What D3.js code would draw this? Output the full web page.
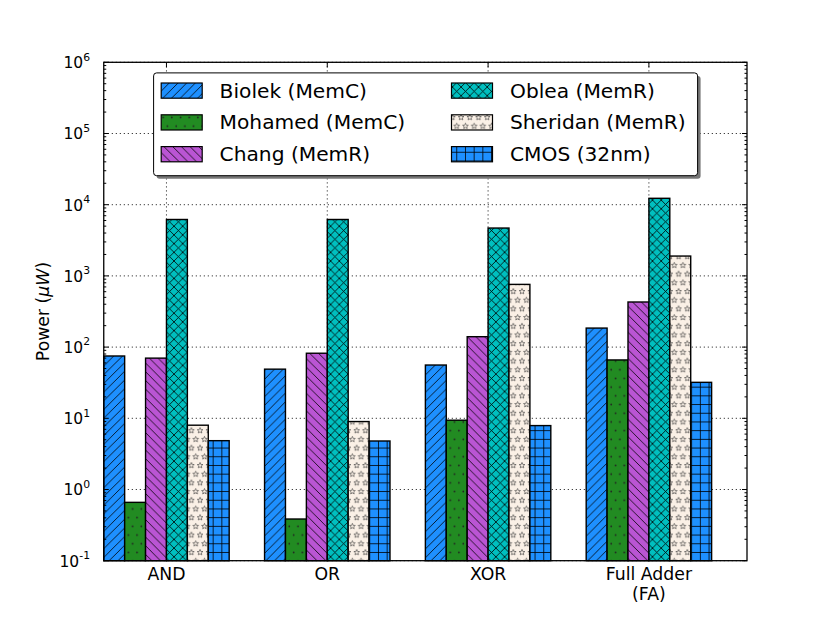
<!DOCTYPE html>
<html><head><meta charset="utf-8">
<script src="https://cdn.jsdelivr.net/npm/d3@7"></script>
<style>body{margin:0;background:#fff} svg{display:block;font-family:"DejaVu Sans",sans-serif}</style>
</head><body><svg id="c" width="830" height="623"></svg>
<script>
// ---- data ----
const categories = [["AND"], ["OR"], ["XOR"], ["Full Adder", "(FA)"]];
const seriesNames = ["Biolek (MemC)", "Mohamed (MemC)", "Chang (MemR)", "Oblea (MemR)", "Sheridan (MemR)", "CMOS (32nm)"];
const biolek   = [75, 49, 56, 185];
const mohamed  = [0.66, 0.385, 9.4, 66];
const chang    = [70, 82, 140, 430];
const oblea    = [6200, 6200, 4700, 12300];
const sheridan = [8, 9, 760, 1900];
const cmos     = [4.85, 4.8, 7.9, 32];
const seriesValues = [biolek, mohamed, chang, oblea, sheridan, cmos];
const seriesColors = ["#1E90FF", "#228B22", "#BA55D3", "#00BFBF", "#FAF0E6", "#1E90FF"];
const seriesHatch = ["/", ".", "\\", "x", "*", "+"];
const yTickExps = [-1, 0, 1, 2, 3, 4, 5, 6];
const groupPositions = [0, 1, 2, 3];
const barWidth = 0.13;
const xTickPositions = [0.39, 1.39, 2.39, 3.39];

// ---- layout ----
const L = 103.75, R = 747, T = 62.3, B = 560.7;
const svg = d3.select("#c");
const x = d3.scaleLinear().domain([0, 4]).range([L, R]);
const y = d3.scaleLog().domain([0.1, 1e6]).range([B, T]);

// ---- hatch patterns ----
const defs = svg.append("defs");
const s = 8.7;
function makePattern(i) {
  const h = seriesHatch[i], col = seriesColors[i];
  const tall = (h === "." || h === "*");
  const p = defs.append("pattern").attr("id", "pat" + i)
    .attr("patternUnits", "userSpaceOnUse")
    .attr("width", s).attr("height", tall ? 2 * s : s);
  p.append("rect").attr("width", s).attr("height", tall ? 2 * s : s).attr("fill", col);
  const path = d => p.append("path").attr("d", d).attr("stroke", "#000").attr("stroke-width", 0.8).attr("fill", "none");
  const ne = `M0,${s} L${s},0 M-1,1 L1,-1 M${s-1},${s+1} L${s+1},${s-1}`;
  const se = `M0,0 L${s},${s} M-1,${s-1} L1,${s+1} M${s-1},-1 L${s+1},1`;
  if (h === "/") path(ne);
  if (h === "\\") path(se);
  if (h === "x") { path(ne); path(se); }
  if (h === "+") path(`M0,${s/2} H${s} M${s/2},0 V${s}`);
  if (h === ".") {
    [[s/4, s/2], [3*s/4, 3*s/2]].forEach(c => p.append("circle").attr("cx", c[0]).attr("cy", c[1]).attr("r", 0.85).attr("fill", "#222"));
  }
  if (h === "*") {
    const ro = 3.0, ri = 1.3;
    const star = (cx, cy) => {
      let d = "";
      for (let k = 0; k < 10; k++) {
        const r = k % 2 ? ri : ro, a = -Math.PI / 2 + k * Math.PI / 5;
        d += (k ? "L" : "M") + (cx + r * Math.cos(a)).toFixed(2) + "," + (cy + r * Math.sin(a)).toFixed(2);
      }
      return d + "Z";
    };
    p.append("path").attr("d", star(s/2, s/2) + star(0, 3*s/2) + star(s, 3*s/2))
      .attr("fill", "none").attr("stroke", "#333").attr("stroke-width", 0.6);
  }
}
seriesNames.forEach((_, i) => makePattern(i));

// ---- grid ----
const dot = "1.2,2.8";
svg.append("g").selectAll("line").data(yTickExps).join("line")
  .attr("x1", L).attr("x2", R).attr("y1", d => y(Math.pow(10, d))).attr("y2", d => y(Math.pow(10, d)))
  .attr("stroke", "#000").attr("stroke-width", 0.8).attr("stroke-dasharray", dot);
svg.append("g").selectAll("line").data(xTickPositions).join("line")
  .attr("x1", d => x(d)).attr("x2", d => x(d)).attr("y1", T).attr("y2", B)
  .attr("stroke", "#000").attr("stroke-width", 0.8).attr("stroke-dasharray", dot);

// ---- bars ----
const barsG = svg.append("g");
seriesValues.forEach((vals, i) => {
  barsG.append("g").selectAll("rect").data(vals).join("rect")
    .attr("x", (d, g) => x(groupPositions[g] + i * barWidth))
    .attr("width", x(barWidth) - x(0))
    .attr("y", d => y(d))
    .attr("height", d => B - y(d))
    .attr("fill", `url(#pat${i})`)
    .attr("stroke", "#000").attr("stroke-width", 1.4);
});

// ---- ticks ----
const tk = svg.append("g").attr("stroke", "#000").attr("stroke-width", 1);
const minors = [];
for (let e = -1; e < 6; e++) for (let m = 2; m <= 9; m++) minors.push(m * Math.pow(10, e));
yTickExps.forEach(e => {
  const yy = y(Math.pow(10, e));
  tk.append("line").attr("x1", L).attr("x2", L + 5).attr("y1", yy).attr("y2", yy);
  tk.append("line").attr("x1", R - 5).attr("x2", R).attr("y1", yy).attr("y2", yy);
});
minors.forEach(v => {
  const yy = y(v);
  tk.append("line").attr("x1", L).attr("x2", L + 2.5).attr("y1", yy).attr("y2", yy);
  tk.append("line").attr("x1", R - 2.5).attr("x2", R).attr("y1", yy).attr("y2", yy);
});
xTickPositions.forEach(p => {
  tk.append("line").attr("x1", x(p)).attr("x2", x(p)).attr("y1", B).attr("y2", B - 5);
  tk.append("line").attr("x1", x(p)).attr("x2", x(p)).attr("y1", T).attr("y2", T + 5);
});

// spine
svg.append("rect").attr("x", L).attr("y", T).attr("width", R - L).attr("height", B - T)
  .attr("fill", "none").attr("stroke", "#000").attr("stroke-width", 1.3);

// ---- y tick labels ----
yTickExps.forEach(e => {
  const t = svg.append("text").attr("x", 90).attr("y", y(Math.pow(10, e)) + 5.8)
    .attr("text-anchor", "end").attr("font-size", 15.5).attr("fill", "#000");
  t.append("tspan").text("10");
  t.append("tspan").attr("dy", -7.5).attr("font-size", 10.8).text(String(e));
});

// ---- x tick labels ----
categories.forEach((lines, g) => {
  const t = svg.append("text").attr("text-anchor", "middle").attr("font-size", 17.3).attr("fill", "#000");
  lines.forEach((ln, k) => t.append("tspan").attr("x", x(xTickPositions[g])).attr("y", 580 + k * 20).text(ln));
});

// ---- y label ----
const yl = svg.append("text").attr("transform", "translate(49," + ((T + B) / 2) + ") rotate(-90)")
  .attr("text-anchor", "middle").attr("font-size", 17.3).attr("fill", "#000");
yl.append("tspan").text("Power (");
yl.append("tspan").attr("font-style", "italic").text("μW");
yl.append("tspan").text(")");

// ---- legend ----
const lg = svg.append("g");
const lx = 153.6, ly = 72.9, lw = 544, lh = 102.8;
lg.append("rect").attr("x", lx + 3).attr("y", ly + 3).attr("width", lw).attr("height", lh).attr("rx", 3).attr("fill", "#777");
lg.append("rect").attr("x", lx).attr("y", ly).attr("width", lw).attr("height", lh).attr("rx", 3)
  .attr("fill", "#fff").attr("stroke", "#000").attr("stroke-width", 1);
seriesNames.forEach((name, i) => {
  const col = Math.floor(i / 3), row = i % 3;
  const cy = 90.6 + row * 31.8;
  const sx = col ? 451.5 : 161.2, tx = col ? 510 : 219.6;
  lg.append("rect").attr("x", sx).attr("y", cy - 7.6).attr("width", 41).attr("height", 15.2)
    .attr("fill", `url(#pat${i})`).attr("stroke", "#000").attr("stroke-width", 1.2);
  lg.append("text").attr("x", tx).attr("y", cy).attr("dominant-baseline", "central")
    .attr("font-size", 20.2).attr("fill", "#000").text(name);
});
</script></body></html>
